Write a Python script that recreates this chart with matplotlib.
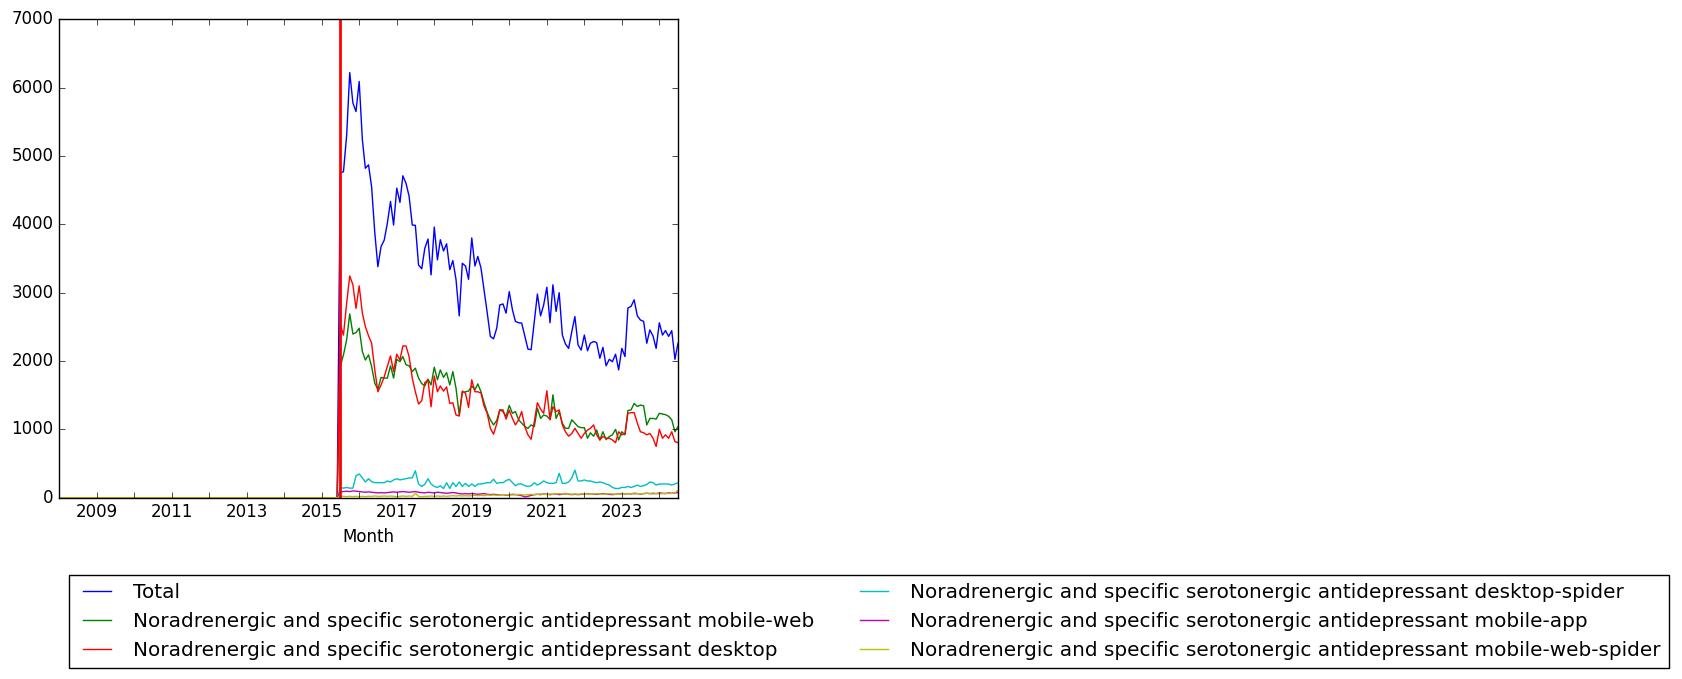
import pandas as pd
import matplotlib
matplotlib.use('Agg')
import matplotlib.pyplot as plt
import matplotlib.dates as mdates
from matplotlib.ticker import FuncFormatter

# monthly values from 2015-07 to 2024-07 (earlier months are zero)
total = [4750, 4770, 5300, 6220, 5775, 5650, 6090, 5240, 4820, 4870,
	4550, 3875, 3380, 3675, 3770, 4015, 4335, 3990, 4530, 4320,
	4710, 4600, 4410, 3990, 3985, 3405, 3350, 3650, 3785, 3260,
	3960, 3480, 3775, 3610, 3715, 3335, 3470, 3190, 2660, 3430,
	3390, 3195, 3800, 3390, 3530, 3360, 3040, 2700, 2360, 2325,
	2480, 2820, 2835, 2700, 3015, 2750, 2580, 2560, 2555, 2360,
	2175, 2165, 2580, 2980, 2660, 2820, 3080, 2560, 3115, 2725,
	3000, 2380, 2250, 2185, 2430, 2650, 2235, 2160, 2380, 2150,
	2260, 2285, 2270, 2040, 2200, 1930, 2025, 1990, 2100, 1870,
	2185, 2065, 2775, 2800, 2895, 2660, 2600, 2580, 2260, 2455,
	2365, 2185, 2560, 2380, 2445, 2360, 2445, 2025, 2260]

mobile_web = [1920, 2090, 2310, 2690, 2395, 2415, 2480, 2140, 2015, 2090,
	1920, 1675, 1585, 1760, 1750, 1750, 1930, 1750, 2025, 1990,
	2065, 1945, 1930, 1845, 1895, 1750, 1670, 1635, 1735, 1650,
	1910, 1725, 1870, 1760, 1830, 1650, 1845, 1600, 1210, 1540,
	1550, 1560, 1635, 1580, 1665, 1550, 1390, 1245, 1140, 1065,
	1130, 1285, 1260, 1190, 1350, 1235, 1260, 1140, 1090, 1040,
	1015, 1065, 1040, 1310, 1160, 1210, 1195, 1145, 1505, 1160,
	1260, 1090, 1015, 1015, 1140, 1090, 1040, 1025, 1025, 870,
	950, 900, 990, 845, 965, 850, 895, 920, 1000, 845,
	965, 920, 1275, 1285, 1380, 1335, 1355, 1345, 1065, 1160,
	1160, 1150, 1235, 1225, 1215, 1190, 1140, 965, 1040]

desktop = [2530, 2380, 2845, 3245, 3115, 2770, 3100, 2700, 2505, 2370,
	2260, 1870, 1550, 1650, 1770, 1920, 2075, 1845, 2100, 2015,
	2220, 2220, 2065, 1750, 1550, 1370, 1420, 1685, 1720, 1330,
	1780, 1550, 1635, 1560, 1620, 1380, 1390, 1210, 1195, 1560,
	1530, 1320, 1725, 1550, 1550, 1530, 1340, 1230, 1015, 930,
	1080, 1285, 1285, 1150, 1280, 1160, 1065, 1140, 1260, 1040,
	920, 855, 1115, 1390, 1295, 1235, 1565, 1140, 1330, 1260,
	1285, 1065, 965, 900, 940, 1015, 940, 870, 940, 990,
	1015, 1065, 920, 845, 895, 870, 870, 845, 805, 965,
	920, 940, 1235, 1245, 1245, 1090, 965, 950, 920, 940,
	870, 750, 1000, 870, 920, 870, 965, 820, 805]

desktop_spider = [150, 140, 150, 140, 140, 320, 347, 290, 230, 278,
	235, 220, 220, 220, 220, 245, 230, 260, 278, 260,
	270, 278, 290, 290, 395, 200, 165, 195, 278, 200,
	165, 150, 175, 135, 220, 135, 220, 165, 230, 165,
	210, 165, 200, 165, 200, 200, 210, 220, 220, 270,
	210, 220, 220, 250, 270, 220, 175, 200, 200, 175,
	165, 175, 220, 185, 210, 245, 220, 210, 210, 220,
	357, 210, 210, 230, 290, 405, 245, 245, 260, 245,
	245, 230, 220, 230, 220, 200, 185, 150, 135, 135,
	150, 150, 165, 150, 165, 185, 165, 175, 195, 230,
	220, 185, 200, 200, 200, 200, 185, 200, 220]

mobile_app = [85, 90, 95, 90, 100, 95, 90, 85, 80, 85,
	80, 75, 70, 75, 70, 75, 80, 85, 80, 85,
	90, 85, 80, 85, 90, 80, 75, 70, 80, 75,
	70, 80, 75, 70, 65, 70, 75, 70, 60, 55,
	60, 55, 60, 55, 50, 55, 60, 50, 45, 50,
	45, 40, 45, 35, 40, 50, 45, 40, 30, 10,
	20, 35, 45, 50, 45, 55, 50, 45, 50, 55,
	45, 50, 55, 50, 45, 50, 45, 50, 55, 60,
	50, 55, 50, 55, 60, 55, 50, 45, 50, 55,
	60, 55, 60, 55, 65, 60, 55, 60, 65, 60,
	65, 60, 70, 65, 60, 70, 65, 70, 75]

mobile_web_spider = [15, 20, 15, 20, 15, 20, 15, 20, 15, 20,
	20, 25, 20, 20, 25, 20, 25, 20, 15, 20,
	25, 20, 25, 20, 65, 20, 15, 20, 20, 25,
	20, 25, 20, 25, 20, 25, 30, 25, 30, 25,
	30, 25, 30, 35, 30, 35, 30, 40, 35, 40,
	35, 40, 45, 40, 45, 40, 45, 50, 45, 40,
	45, 50, 45, 50, 55, 50, 45, 55, 50, 55,
	60, 55, 50, 55, 50, 55, 50, 55, 60, 55,
	50, 55, 60, 55, 50, 55, 60, 55, 50, 55,
	55, 60, 55, 60, 55, 60, 55, 60, 65, 60,
	55, 60, 55, 60, 65, 60, 65, 70, 110]

drug = 'Noradrenergic and specific serotonergic antidepressant'
labels = ['Total', drug + ' mobile-web', drug + ' desktop',
	drug + ' desktop-spider', drug + ' mobile-app', drug + ' mobile-web-spider']
start = '2015-07-01'


def build_frame():
	months = pd.date_range('2008-01-01', '2024-07-01', freq='MS')
	n_zero = len(months) - len(total)
	df = pd.DataFrame(index=months)
	series = [total, mobile_web, desktop, desktop_spider, mobile_app, mobile_web_spider]
	for name, vals in zip(labels, series):
		df[name] = [0] * n_zero + vals
	return df


def plot(df):
	plt.style.use('classic')
	fig = plt.figure(figsize=(16.82, 6.79), dpi=100, facecolor='white')
	ax = fig.add_axes([0.0351, 0.267, 0.368, 0.7046])
	for name in labels:
		ax.plot(df.index, df[name], label=name)
	ax.axvline(pd.Timestamp(start), color='r', lw=2)

	ax.set_xlim(df.index[0], df.index[-1])
	ax.set_ylim(0, 7000)
	ax.xaxis.set_major_locator(mdates.YearLocator(1))
	ax.xaxis.set_major_formatter(FuncFormatter(
		lambda v, p: mdates.num2date(v).strftime('%Y') if mdates.num2date(v).year % 2 else ''))
	ax.set_xlabel('Month')

	fig.legend(*ax.get_legend_handles_labels(), loc='upper center',
		bbox_to_anchor=(0.5167, 0.168), ncol=2, fontsize=14.4)
	fig.savefig('out.png', dpi=100, facecolor='white')


if __name__ == '__main__':
	df = build_frame()
	plot(df)
